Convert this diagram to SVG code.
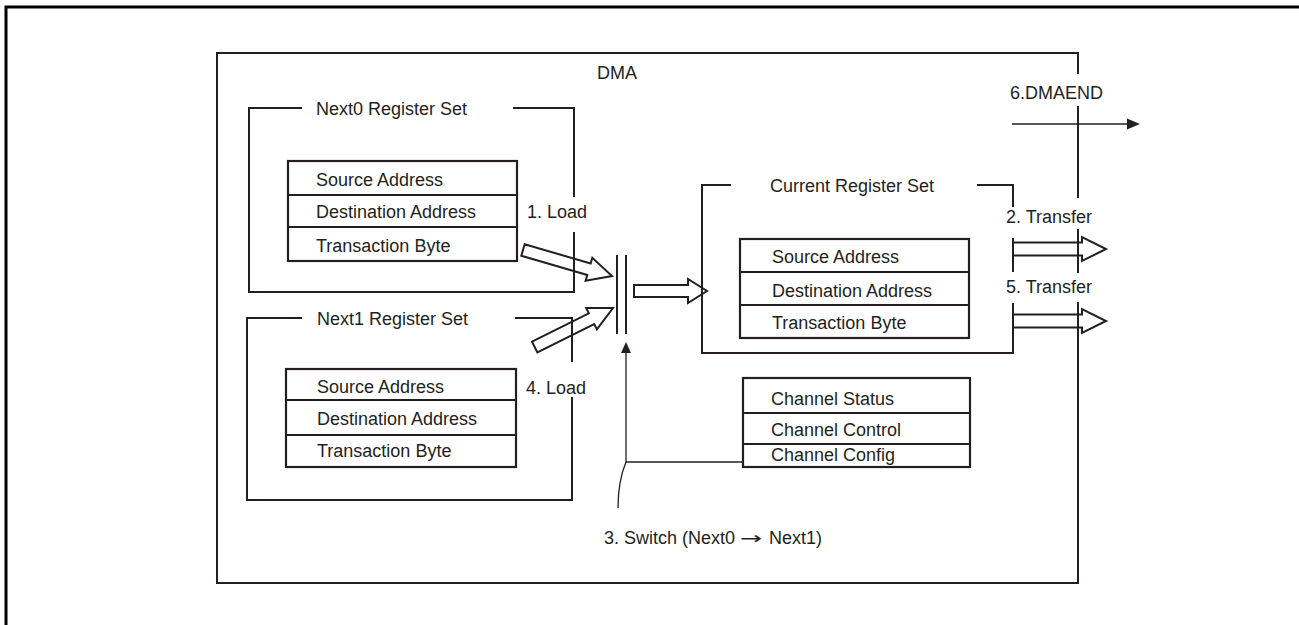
<svg xmlns="http://www.w3.org/2000/svg" width="1299" height="625" viewBox="0 0 1299 625">
<style>
.ln{fill:none;stroke:#231f20;stroke-width:2}
.thin{fill:none;stroke:#231f20;stroke-width:1.3}
.box{fill:none;stroke:#231f20;stroke-width:2.2}
.t{font-family:"Liberation Sans",Arial,sans-serif;font-size:18px;fill:#231f20}
.ar{font-family:"DejaVu Sans",sans-serif;font-size:17px;fill:#231f20}
.ha{fill:none;stroke:#231f20;stroke-width:2;stroke-linejoin:miter}
</style>
<rect x="0" y="0" width="1299" height="625" fill="#ffffff"/>
<g id="page-border">
<polyline points="6,625 6,7 1299,7" fill="none" stroke="#000" stroke-width="3"/>
</g>
<g id="dma">
<polyline class="ln" points="1078,74 1078,53 217,53 217,583 1078,583 1078,302"/>
<line class="ln" x1="1078" y1="106" x2="1078" y2="198"/>
<line class="ln" x1="1078" y1="229" x2="1078" y2="273"/>
<text class="t" x="597" y="79">DMA</text>
</g>
<g id="next0">
<polyline class="ln" points="302,108 249,108 249,292 574,292 574,232"/>
<polyline class="ln" points="513,108 574,108 574,197"/>
<text class="t" x="316" y="115">Next0 Register Set</text>
<rect class="box" x="288" y="161" width="229" height="100"/>
<line class="box" x1="288" y1="195" x2="517" y2="195"/>
<line class="box" x1="288" y1="227" x2="517" y2="227"/>
<text class="t" x="316" y="186">Source Address</text>
<text class="t" x="316" y="218">Destination Address</text>
<text class="t" x="316" y="252">Transaction Byte</text>
</g>
<g id="next1">
<polyline class="ln" points="302,318 247,318 247,500 572,500 572,397"/>
<polyline class="ln" points="515,318 572,318 572,362"/>
<text class="t" x="317" y="325">Next1 Register Set</text>
<rect class="box" x="286" y="369" width="230" height="98"/>
<line class="box" x1="286" y1="400" x2="516" y2="400"/>
<line class="box" x1="286" y1="435" x2="516" y2="435"/>
<text class="t" x="317" y="393">Source Address</text>
<text class="t" x="317" y="425">Destination Address</text>
<text class="t" x="317" y="457">Transaction Byte</text>
</g>
<g id="current">
<polyline class="ln" points="731,185 702,185 702,353 1013,353 1013,303"/>
<polyline class="ln" points="977,185 1013,185 1013,207"/>
<line class="ln" x1="1013" y1="238" x2="1013" y2="272"/>
<text class="t" x="770" y="192">Current Register Set</text>
<rect class="box" x="740" y="239" width="229" height="99"/>
<line class="box" x1="740" y1="272" x2="969" y2="272"/>
<line class="box" x1="740" y1="305" x2="969" y2="305"/>
<text class="t" x="772" y="263">Source Address</text>
<text class="t" x="772" y="297">Destination Address</text>
<text class="t" x="772" y="329">Transaction Byte</text>
</g>
<g id="channel">
<rect class="box" x="743" y="378" width="227" height="89"/>
<line class="box" x1="743" y1="413" x2="970" y2="413"/>
<line class="box" x1="743" y1="444" x2="970" y2="444"/>
<text class="t" x="771" y="405">Channel Status</text>
<text class="t" x="771" y="436">Channel Control</text>
<text class="t" x="771" y="461">Channel Config</text>
</g>
<g id="switch">
<line class="ln" x1="617" y1="255" x2="617" y2="334"/>
<line class="ln" x1="626" y1="255" x2="626" y2="334"/>
</g>
<g id="connectors">
<polygon class="ha" points="524.68,244.24 590.64,263.51 592.32,257.75 612,276 585.60,280.79 587.28,275.03 521.32,255.76"/>
<polygon class="ha" points="532.02,341.63 588.84,313.33 586.17,307.96 613,308 596.87,329.44 594.20,324.07 537.38,352.37"/>
<polygon class="ha" points="634,285 688,285 688,279 707,291 688,303 688,297 634,297"/>
<polygon class="ha" points="1013,242.5 1082,242.5 1082,237 1106,249 1082,261 1082,255.5 1013,255.5"/>
<polygon class="ha" points="1013,314.5 1082,314.5 1082,309 1106,321 1082,333 1082,327.5 1013,327.5"/>
<polyline class="thin" points="742,462 626,462 626,350"/>
<polygon points="626,342 621,353 631,353" fill="#231f20"/>
<path class="thin" d="M626,462 C621,474 618,490 618,508"/>
<line class="thin" x1="1012" y1="124" x2="1129" y2="124"/>
<polygon points="1140,124 1127,118.5 1127,129.5" fill="#231f20"/>
<text class="t" x="527" y="218">1. Load</text>
<text class="t" x="526" y="394">4. Load</text>
<text class="t" x="1006" y="223">2. Transfer</text>
<text class="t" x="1006" y="293">5. Transfer</text>
<text class="t" x="1010" y="99">6.DMAEND</text>
<g id="switch-label">
<text class="t" x="604" y="544">3. Switch (Next0</text>
<text class="ar" transform="translate(740,544) scale(1.55,1)" x="0" y="0">→</text>
<text class="t" x="769" y="544">Next1)</text>
</g>
</g>
</svg>
